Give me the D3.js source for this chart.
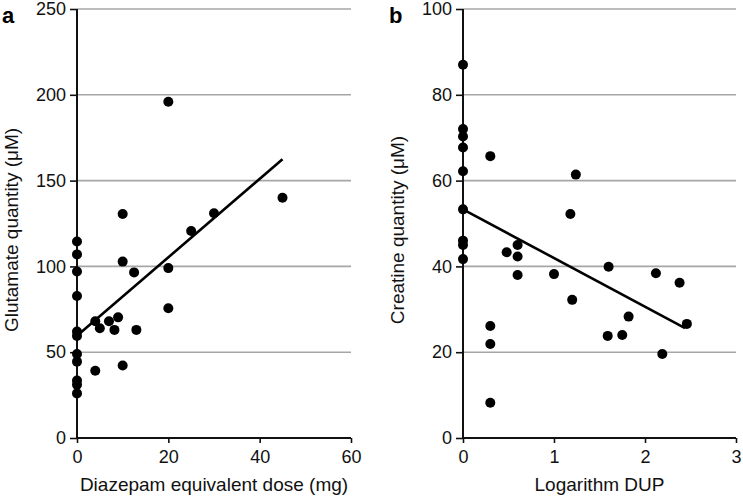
<!DOCTYPE html>
<html>
<head>
<meta charset="utf-8">
<script src="https://cdn.jsdelivr.net/npm/d3@7"></script>
<style>
  html, body { margin: 0; padding: 0; background: #fff; }
  svg { display: block; font-family: "Liberation Sans", Arial, sans-serif; }
</style>
</head>
<body>
<svg id="chart" width="743" height="497"></svg>
<script>
// ---- Panel a: Glutamate vs Diazepam equivalent dose ----
const doseX = [0, 0, 0, 0, 0, 0, 0, 0, 0, 0, 0,
               4, 5, 7, 9, 8.2, 13, 10, 12.5, 4, 10, 20, 10, 45, 25, 30, 20, 20];
const glutamateY = [114.5, 107, 97, 82.7, 62, 59.5, 49, 44.5, 33.5, 31, 26,
                    68, 64, 68, 70.3, 63, 63, 102.8, 96.5, 39.2, 42.3, 196, 130.5, 140, 120.6, 131, 99, 75.6];
const trendA_x = [0, 45];
const trendA_y = [59.6, 162.4];
const ticksA_x = [0, 20, 40, 60];
const ticksA_y = [0, 50, 100, 150, 200, 250];

// ---- Panel b: Creatine vs Logarithm DUP ----
const logDupX = [0, 0, 0, 0, 0, 0, 0, 0, 0,
                 0.3, 0.3, 0.3, 0.3,
                 0.48, 0.6, 0.6, 0.6, 1.0, 1.2, 1.18, 1.24, 1.6, 1.59, 1.75, 1.82, 2.12, 2.19, 2.38, 2.46];
const creatineY = [87, 72, 70.3, 67.7, 62.2, 53.3, 46, 45, 41.7,
                   65.7, 26.1, 21.9, 8.2,
                   43.3, 45, 42.3, 38, 38.2, 32.2, 52.2, 61.4, 39.9, 23.8, 24, 28.3, 38.4, 19.6, 36.2, 26.6];
const trendB_x = [0, 2.44];
const trendB_y = [53.3, 25.6];
const ticksB_x = [0, 1, 2, 3];
const ticksB_y = [0, 20, 40, 60, 80, 100];

const svg = d3.select("#chart");

function panel(cfg) {
  const x = d3.scaleLinear().domain(cfg.xDomain).range(cfg.xRange);
  const y = d3.scaleLinear().domain(cfg.yDomain).range([438, 9]);
  const g = svg.append("g");

  // gridlines
  g.append("g")
    .selectAll("line")
    .data(cfg.yTicks.filter(d => d !== 0))
    .join("line")
    .attr("x1", x(cfg.xDomain[0])).attr("x2", x(cfg.xDomain[1]))
    .attr("y1", d => y(d)).attr("y2", d => y(d))
    .attr("stroke", "#a6a6a6").attr("stroke-width", 1.6);

  // y axis
  const ya = g.append("g")
    .attr("transform", `translate(${x(cfg.xDomain[0])},0)`)
    .call(d3.axisLeft(y).tickValues(cfg.yTicks).tickSize(7).tickPadding(4).tickFormat(d3.format("d")));
  ya.select(".domain").attr("stroke", "#111").attr("stroke-width", 2).attr("d", `M0,${y(cfg.yDomain[1])}V${y(0)}`);
  ya.selectAll(".tick line").attr("stroke", "#111").attr("stroke-width", 1.6);
  ya.selectAll("text").attr("font-size", 18).attr("fill", "#111").attr("font-family", "Liberation Sans, Arial, sans-serif");

  // x axis
  const xa = g.append("g")
    .attr("transform", `translate(0,${y(0)})`)
    .call(d3.axisBottom(x).tickValues(cfg.xTicks).tickSize(5).tickPadding(7).tickFormat(d3.format("d")));
  xa.select(".domain").attr("stroke", "#111").attr("stroke-width", 2).attr("d", `M${x(cfg.xDomain[0])},0H${x(cfg.xDomain[1])}`);
  xa.selectAll(".tick line").attr("stroke", "#111").attr("stroke-width", 1.6);
  xa.selectAll("text").attr("font-size", 18).attr("fill", "#111").attr("font-family", "Liberation Sans, Arial, sans-serif");

  // trend line
  g.append("line")
    .attr("x1", x(cfg.trendX[0])).attr("y1", y(cfg.trendY[0]))
    .attr("x2", x(cfg.trendX[1])).attr("y2", y(cfg.trendY[1]))
    .attr("stroke", "#000").attr("stroke-width", 2.6);

  // points
  g.append("g")
    .selectAll("circle")
    .data(cfg.xs.map((v, i) => [v, cfg.ys[i]]))
    .join("circle")
    .attr("cx", d => x(d[0])).attr("cy", d => y(d[1]))
    .attr("r", 5).attr("fill", "#000");

  // axis titles
  g.append("text")
    .attr("x", (x(cfg.xDomain[0]) + x(cfg.xDomain[1])) / 2)
    .attr("y", 491)
    .attr("text-anchor", "middle")
    .attr("font-size", 19).attr("fill", "#111")
    .text(cfg.xTitle);
  g.append("text")
    .attr("transform", `translate(${cfg.yTitleX},${230}) rotate(-90)`)
    .attr("text-anchor", "middle")
    .attr("font-size", 19).attr("fill", "#111")
    .text(cfg.yTitle);

  // panel label
  g.append("text")
    .attr("x", cfg.labelX).attr("y", 23)
    .attr("font-size", 22).attr("font-weight", "bold").attr("fill", "#000")
    .text(cfg.label);
}

panel({
  xDomain: [0, 60], xRange: [77, 351], yDomain: [0, 250],
  xTicks: ticksA_x, yTicks: ticksA_y,
  xs: doseX, ys: glutamateY, trendX: trendA_x, trendY: trendA_y,
  xTitle: "Diazepam equivalent dose (mg)", yTitle: "Glutamate quantity (μM)",
  yTitleX: 18, label: "a", labelX: 2
});

panel({
  xDomain: [0, 3], xRange: [463, 736], yDomain: [0, 100],
  xTicks: ticksB_x, yTicks: ticksB_y,
  xs: logDupX, ys: creatineY, trendX: trendB_x, trendY: trendB_y,
  xTitle: "Logarithm DUP", yTitle: "Creatine quantity (μM)",
  yTitleX: 404, label: "b", labelX: 389
});
</script>
</body>
</html>
